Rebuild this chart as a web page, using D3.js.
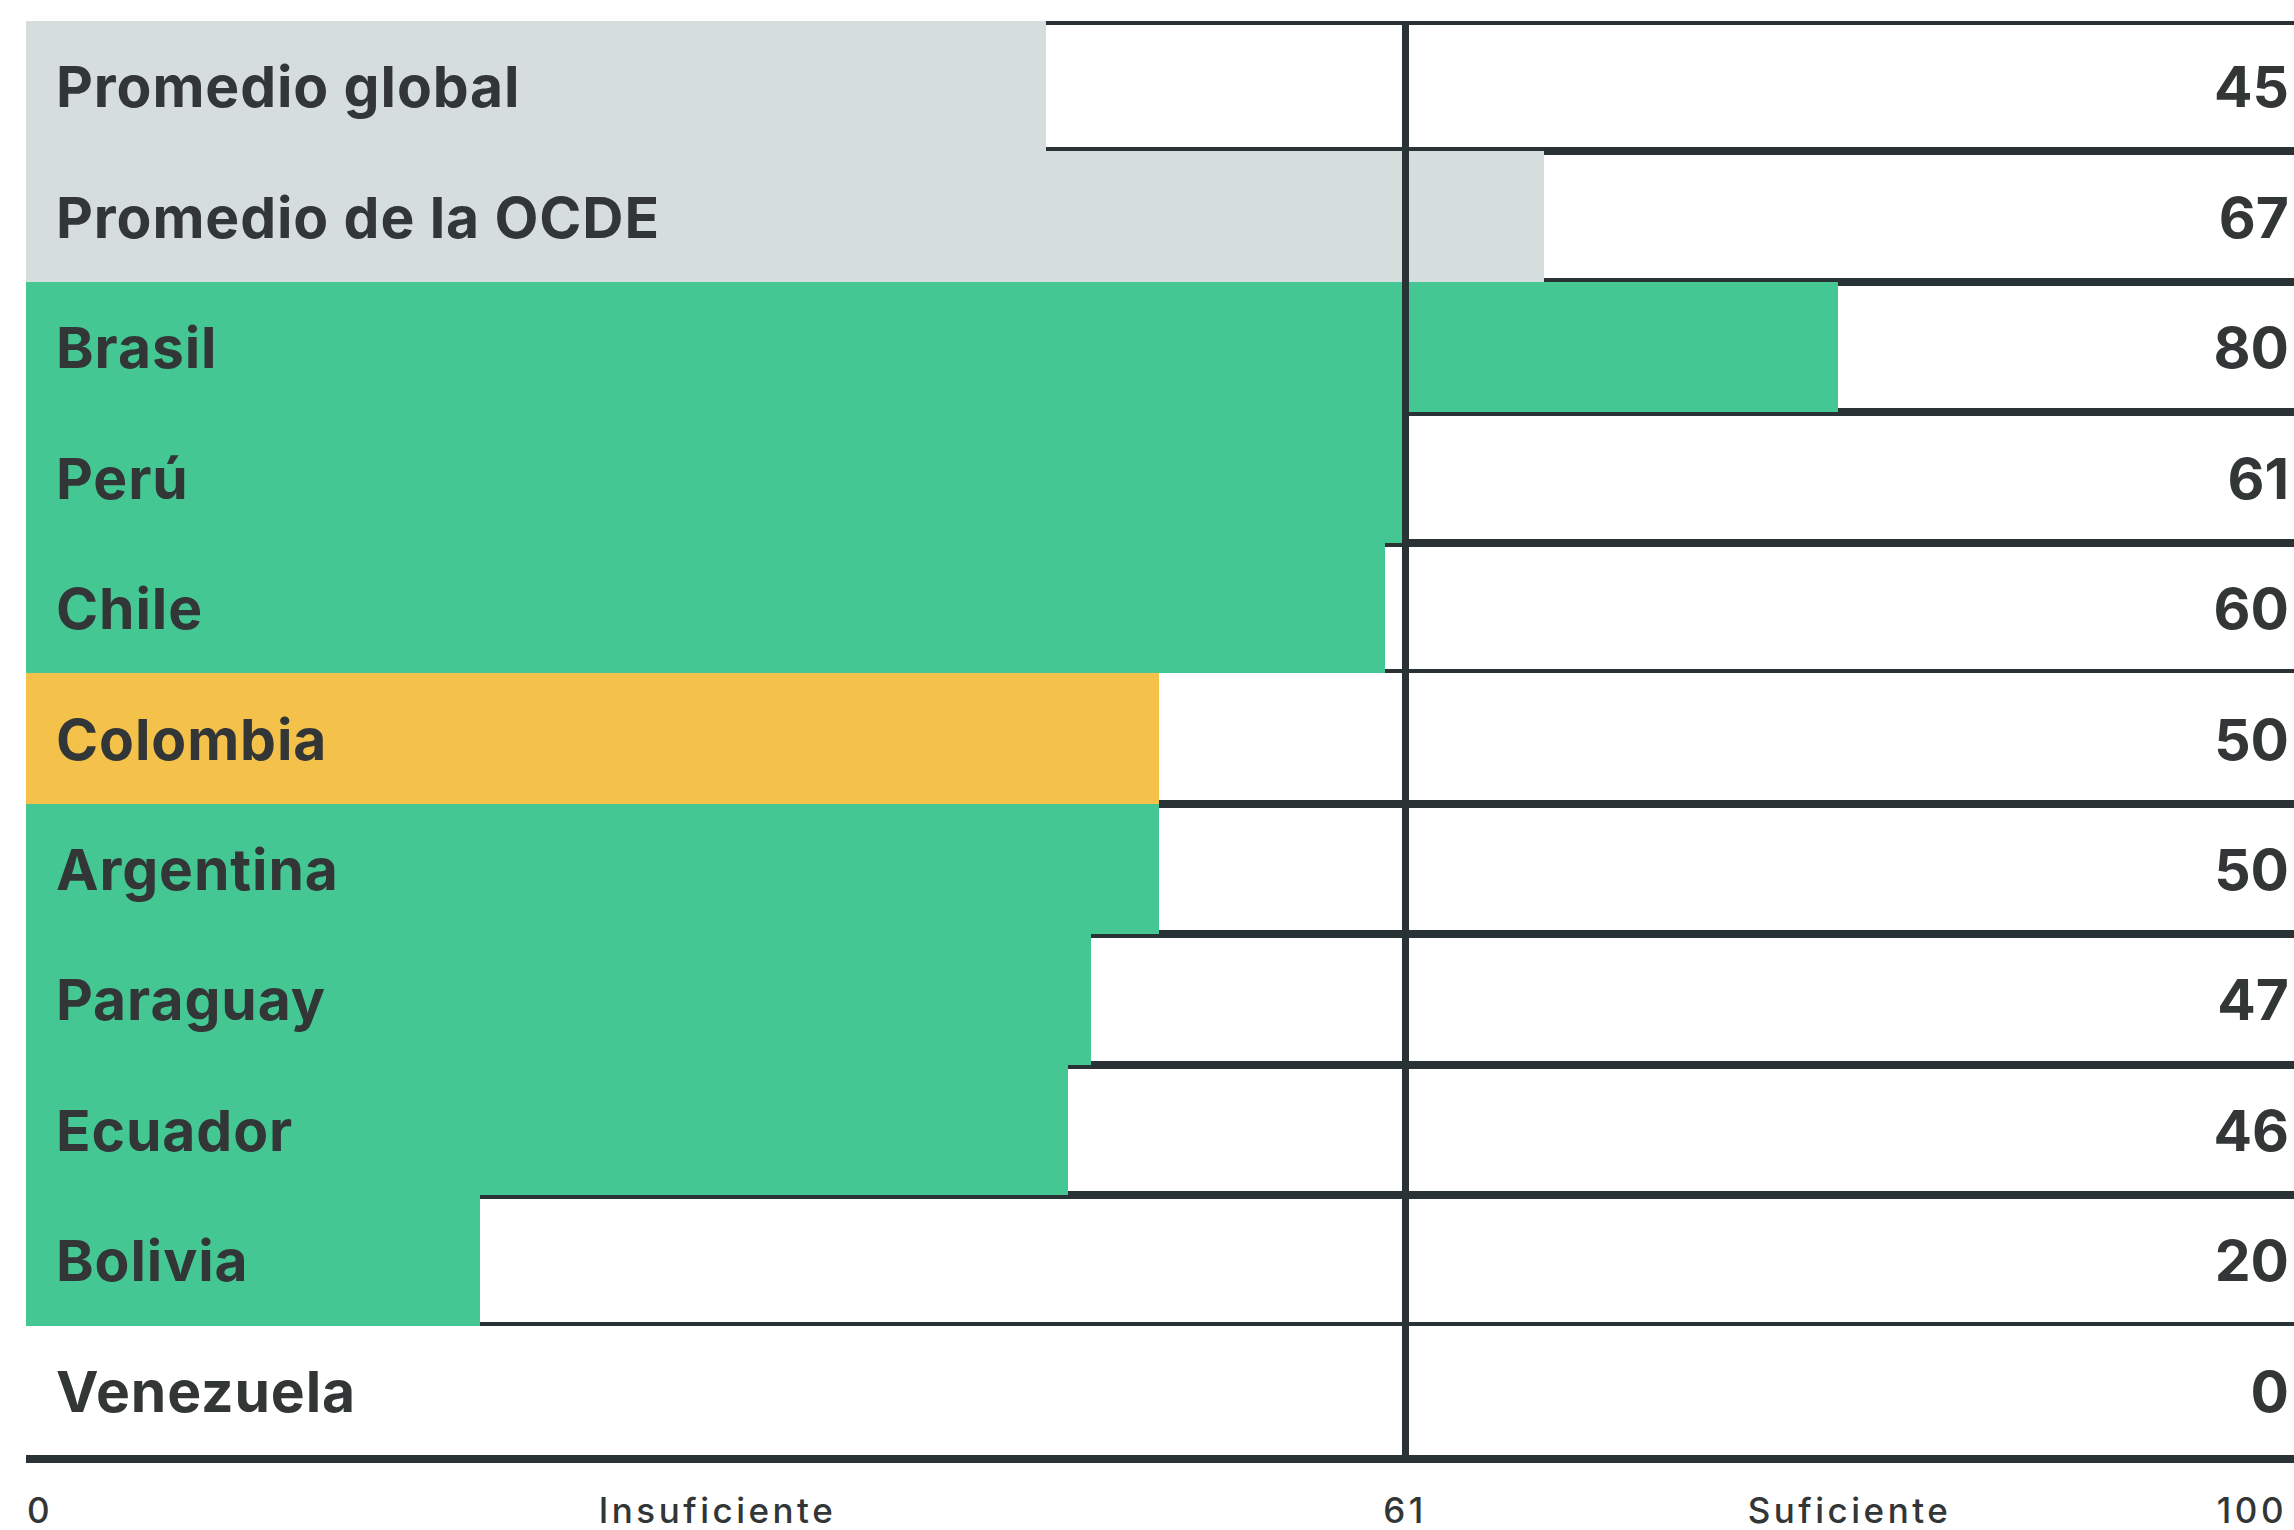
<!DOCTYPE html>
<html>
<head>
<meta charset="utf-8">
<script src="https://cdn.jsdelivr.net/npm/d3@7"></script>
<style>
  html, body { margin: 0; padding: 0; background: #fff; }
  svg { display: block; }
  text { font-family: Inter, "Noto Sans", sans-serif; fill: #333637; }
</style>
</head>
<body>
<svg id="chart" width="2294" height="1530"></svg>
<script>
// data
var countries = ["Promedio global", "Promedio de la OCDE", "Brasil", "Perú", "Chile", "Colombia",
  "Argentina", "Paraguay", "Ecuador", "Bolivia", "Venezuela"];
var scores = [45, 67, 80, 61, 60, 50, 50, 47, 46, 20, 0];
var averages = ["Promedio global", "Promedio de la OCDE"];
var highlight = "Colombia";
var threshold = 61;
var tickLabels = [{ v: 0, t: "0" }, { v: 30.5, t: "Insuficiente" }, { v: 61, t: "61" },
  { v: 80.5, t: "Suficiente" }, { v: 100, t: "100" }];

var rows = countries.map(function (c, i) { return { name: c, value: scores[i] }; });

var svg = d3.select("#chart"),
  width = +svg.attr("width"),
  height = +svg.attr("height");

var dark = "#293235";

var x = d3.scaleLinear().domain([0, 100]).range([27, 2291]);
var y = d3.scaleBand().domain(countries).range([21, 1456]).padding(0);
var bw = y.bandwidth();

// whole pixel row edges so bars butt cleanly
function rowTop(d) { return Math.round(y(d.name)); }
function rowBottom(d) { return Math.round(y(d.name) + bw); }
function xEnd(d) { return Math.round(x(d.value)); }
var x0 = Math.round(x(0));

function barColour(d) {
  if (averages.indexOf(d.name) >= 0) return "#d5dedd";
  if (d.name === highlight) return "#f4c24a";
  return "#45c794";
}

// row rules start where the bar stops
var rules = svg.append("g").attr("class", "rules").attr("shape-rendering", "crispEdges");
rows.forEach(function (d, i) {
  if (d.name !== highlight && d.value > 0) {
    rules.append("rect")
      .attr("x", xEnd(d)).attr("y", rowTop(d))
      .attr("width", width - xEnd(d)).attr("height", 4)
      .attr("fill", dark);
  }
  if (i < rows.length - 1) {
    rules.append("rect")
      .attr("x", xEnd(d)).attr("y", rowBottom(d) - 4)
      .attr("width", width - xEnd(d)).attr("height", 4)
      .attr("fill", dark);
  }
});

// bars
svg.append("g").attr("class", "bars").attr("shape-rendering", "crispEdges")
  .selectAll("rect")
  .data(rows.filter(function (d) { return d.value > 0; }))
  .enter().append("rect")
  .attr("x", x0 - 1)
  .attr("y", rowTop)
  .attr("width", function (d) { return xEnd(d) - x0 + 1; })
  .attr("height", function (d) { return rowBottom(d) - rowTop(d); })
  .attr("fill", barColour);

var axisY = Math.round(y.range()[1]) - 1;

// threshold line (sits just left of the 61 mark, over the bars)
svg.append("rect")
  .attr("x", Math.round(x(threshold)) - 6)
  .attr("y", rowTop(rows[0]) + 3)
  .attr("width", 7)
  .attr("height", axisY - rowTop(rows[0]) - 3)
  .attr("fill", dark)
  .attr("shape-rendering", "crispEdges");

// baseline
svg.append("rect")
  .attr("x", x0 - 1).attr("y", axisY)
  .attr("width", width - x0 + 1).attr("height", 8)
  .attr("fill", dark)
  .attr("shape-rendering", "crispEdges");

// names
svg.append("g").selectAll("text")
  .data(rows)
  .enter().append("text")
  .attr("x", 56)
  .attr("y", function (d) { return y(d.name) + bw / 2 + 21; })
  .style("font-size", "57px")
  .style("font-weight", 700)
  .style("letter-spacing", "0.9px")
  .text(function (d) { return d.name; });

// values
svg.append("g").selectAll("text")
  .data(rows)
  .enter().append("text")
  .attr("x", x(100) - 2)
  .attr("y", function (d) { return y(d.name) + bw / 2 + 21; })
  .attr("text-anchor", "end")
  .style("font-size", "57px")
  .style("font-weight", 700)
  .text(function (d) { return d.value; });

// bottom scale labels
svg.append("g").selectAll("text")
  .data(tickLabels)
  .enter().append("text")
  .attr("x", function (d) { return d.v === 100 ? x(d.v) - 4 : d.v === threshold ? x(d.v) - 3 : x(d.v); })
  .attr("y", 1523)
  .attr("text-anchor", function (d) { return d.v === 0 ? "start" : d.v === 100 ? "end" : "middle"; })
  .style("font-size", "35px")
  .style("font-weight", 500)
  .style("letter-spacing", "3.5px")
  .text(function (d) { return d.t; });
</script>
</body>
</html>
